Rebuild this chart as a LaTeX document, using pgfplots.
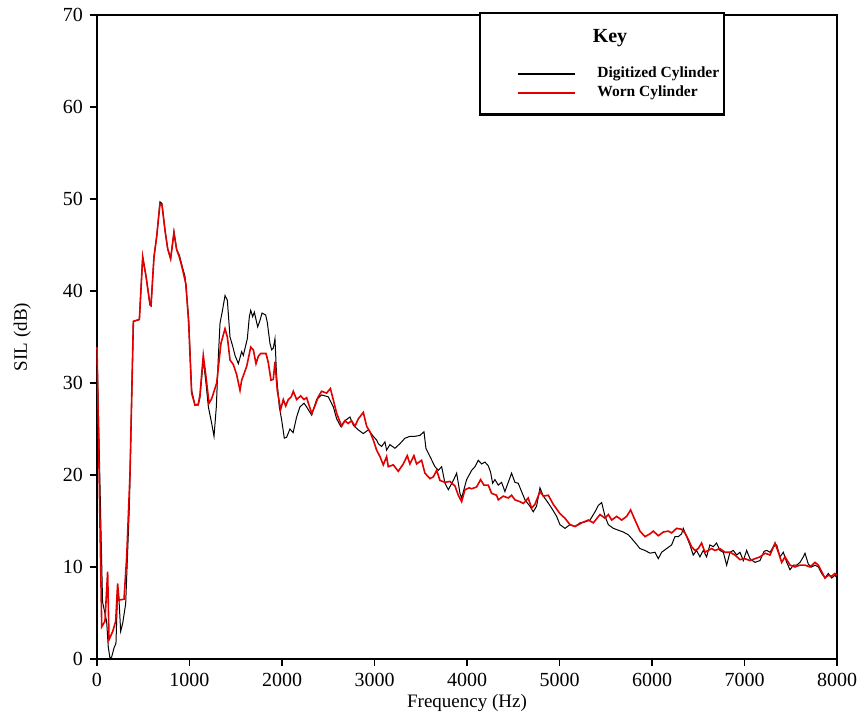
\documentclass[border=0pt]{standalone}
\usepackage{fontspec}
\setmainfont{Liberation Serif}
\usepackage{pgfplots}
\pgfplotsset{compat=1.18}
\definecolor{wornRed}{HTML}{E00000}

\begin{document}
\begin{tikzpicture}
\begin{axis}[
    scale only axis, width=370pt, height=322pt,
    xmin=0, xmax=8000, ymin=0, ymax=70,
    xtick={0,1000,...,8000}, ytick={0,10,...,70},
    tick pos=left, tick align=outside, major tick length=3.5pt,
    axis line style={line width=1pt},
    tick style={line width=0.8pt, black},
    scaled x ticks=false,
    xticklabel style={/pgf/number format/1000 sep={}},
    /pgf/number format/assume math mode=true,
    ticklabel style={font=\fontsize{10}{12}\selectfont},
    label style={font=\fontsize{9.5}{11}\selectfont},
    xlabel={Frequency (Hz)}, ylabel={SIL (dB)},
    xlabel style={at={(axis description cs:0.5,-0.068)}, anchor=center},
    ylabel style={at={(axis description cs:-0.101,0.5)}, anchor=center},
    clip=false,
]
% Digitized Cylinder
\addplot[black, line width=0.5pt] coordinates {
(0,33.9) (60,6.2) (104,4.1) (122,1.3) (140,0.1) (158,0.2) (184,1.2) (205,1.7)
(223,7.5) (238,6.4) (256,3.0) (278,3.9) (310,6.0) (350,16.6) (393,36.7)
(458,36.9) (494,43.7) (530,41.6) (573,38.5) (584,38.4) (616,43.7) (645,45.9)
(681,49.7) (703,49.5) (735,46.6) (764,44.6) (796,43.5) (832,46.5) (861,44.5)
(890,43.9) (926,42.5) (951,41.6) (991,37.0) (1023,29.2) (1059,27.6) (1095,27.6)
(1113,28.4) (1149,32.5) (1178,30.0) (1204,27.4) (1240,25.6) (1265,24.2) (1290,27.4)
(1312,32.9) (1330,36.5) (1355,37.8) (1384,39.5) (1409,39.0) (1438,35.0) (1467,34.0)
(1492,33.0) (1528,32.1) (1564,33.4) (1582,33.0) (1625,34.8) (1647,37.2) (1662,37.9)
(1683,37.2) (1701,37.7) (1737,36.1) (1762,36.8) (1784,37.6) (1823,37.4) (1841,36.6)
(1870,34.3) (1888,33.6) (1906,33.8) (1924,34.8) (1942,30.7) (1971,27.4) (1996,26.0)
(2025,24.0) (2050,24.1) (2086,25.0) (2120,24.6) (2158,26.3) (2194,27.4) (2238,27.8)
(2266,27.4) (2321,26.5) (2374,28.2) (2428,28.7) (2500,28.5) (2555,27.4) (2591,26.1)
(2634,25.3) (2680,25.9) (2735,26.3) (2771,25.4) (2825,24.9) (2879,24.5) (2933,24.9)
(2987,24.2) (3023,23.8) (3041,23.4) (3077,23.1) (3113,23.6) (3131,22.7) (3167,23.3)
(3221,22.9) (3275,23.4) (3329,24.0) (3383,24.2) (3437,24.2) (3491,24.3) (3535,24.7)
(3556,22.9) (3600,22.0) (3654,20.9) (3690,20.5) (3726,20.9) (3762,19.1) (3798,18.4)
(3852,19.4) (3888,20.2) (3924,18.0) (3942,17.5) (3996,19.5) (4050,20.5) (4086,20.9)
(4122,21.6) (4158,21.2) (4194,21.4) (4230,21.0) (4255,20.3) (4277,19.1) (4302,19.5)
(4338,18.9) (4374,19.2) (4410,18.2) (4446,19.2) (4482,20.2) (4518,19.2) (4554,19.1)
(4590,18.2) (4627,17.3) (4680,16.6) (4716,16.0) (4752,16.6) (4789,18.6) (4825,17.7)
(4861,17.2) (4915,16.4) (4969,15.5) (5005,14.6) (5059,14.2) (5113,14.6) (5168,14.4)
(5222,14.8) (5276,14.9) (5330,15.1) (5384,16.0) (5420,16.7) (5456,17.0) (5492,15.5)
(5528,14.6) (5582,14.2) (5636,14.0) (5690,13.8) (5744,13.5) (5780,13.1) (5830,12.5)
(5870,12.0) (5924,11.8) (5978,11.5) (6032,11.6) (6068,10.9) (6104,11.6) (6158,12.0)
(6212,12.4) (6248,13.3) (6284,13.3) (6320,13.6) (6338,14.2) (6374,13.3) (6410,12.4)
(6446,11.3) (6482,11.8) (6518,11.1) (6554,11.8) (6590,11.1) (6626,12.4) (6662,12.2)
(6698,12.6) (6734,11.8) (6771,11.6) (6807,10.2) (6843,11.6) (6879,11.8) (6915,11.3)
(6951,11.6) (6987,10.7) (7023,11.8) (7059,10.9) (7113,10.5) (7168,10.7) (7211,11.7)
(7240,11.8) (7276,11.6) (7312,12.2) (7348,12.4) (7384,11.1) (7420,11.6) (7456,10.5)
(7492,9.7) (7528,10.2) (7564,10.2) (7600,10.5) (7636,11.1) (7654,11.5) (7690,10.3)
(7726,10.0) (7762,10.2) (7798,10.0) (7834,9.3) (7870,8.8) (7906,9.3) (7942,8.8)
(7978,9.1) (8000,8.8)
};
% Worn Cylinder
\addplot[wornRed, line width=0.8pt] coordinates {
(0,33.9) (51,3.5) (86,4.1) (115,9.5) (130,2.1) (170,3.0) (202,4.1) (223,8.2)
(238,6.4) (292,6.5) (321,11.1) (357,20.2) (393,36.7) (458,36.9) (494,43.7) (530,41.6)
(573,38.5) (584,38.4) (616,43.7) (645,45.9) (681,49.5) (703,49.3) (735,46.6) (764,44.6)
(796,43.5) (832,46.3) (861,44.5) (890,43.7) (926,42.3) (962,40.7) (991,36.5) (1023,28.9)
(1059,27.6) (1095,27.7) (1113,28.7) (1149,33.0) (1178,30.7) (1211,27.8) (1240,28.3)
(1294,30.0) (1340,34.3) (1384,35.9) (1409,35.0) (1438,32.5) (1474,32.0) (1510,30.9)
(1546,29.2) (1564,30.3) (1618,31.8) (1662,33.9) (1690,33.6) (1719,32.1) (1744,32.9)
(1769,33.2) (1827,33.2) (1852,32.2) (1881,30.3) (1906,30.4) (1924,32.3) (1949,29.2)
(1985,27.1) (2014,28.2) (2040,27.5) (2068,28.2) (2100,28.5) (2122,29.1) (2158,28.2)
(2202,28.6) (2238,28.2) (2266,28.4) (2321,26.7) (2356,27.5) (2392,28.5) (2428,29.1)
(2482,28.9) (2523,29.4) (2559,28.0) (2591,26.7) (2645,25.3) (2680,25.9) (2716,25.6)
(2752,25.9) (2789,25.3) (2825,26.1) (2879,26.8) (2915,25.3) (2951,24.7) (2987,23.8)
(3023,22.7) (3059,22.0) (3095,21.1) (3131,22.0) (3149,20.9) (3203,21.1) (3257,20.4)
(3311,21.2) (3354,22.1) (3383,21.2) (3426,22.1) (3455,21.2) (3509,21.6) (3545,20.2)
(3600,19.6) (3636,19.8) (3672,20.5) (3708,19.4) (3762,19.2) (3816,19.3) (3870,18.8)
(3906,17.8) (3942,17.1) (3978,18.4) (4025,18.6) (4050,18.5) (4104,18.7) (4147,19.5)
(4183,18.9) (4230,18.9) (4266,18.0) (4320,17.8) (4338,17.3) (4392,17.7) (4446,17.5)
(4482,17.8) (4518,17.3) (4572,17.1) (4609,16.9) (4662,17.5) (4698,16.4) (4734,16.8)
(4789,18.2) (4825,17.7) (4879,17.8) (4933,16.8) (5005,15.8) (5059,15.3) (5113,14.6)
(5168,14.4) (5240,14.8) (5312,15.1) (5366,14.8) (5438,15.7) (5492,15.3) (5528,15.7)
(5564,15.1) (5618,15.5) (5672,15.1) (5726,15.5) (5769,16.2) (5816,15.1) (5870,13.9)
(5924,13.3) (5978,13.6) (6014,13.9) (6068,13.4) (6122,13.8) (6176,13.9) (6212,13.7)
(6266,14.2) (6320,14.1) (6356,13.7) (6392,13.0) (6428,12.2) (6464,11.8) (6500,12.0)
(6536,12.6) (6572,11.6) (6608,11.8) (6644,12.0) (6680,11.8) (6734,12.0) (6789,11.6)
(6843,11.6) (6897,11.3) (6951,10.8) (7005,10.9) (7059,10.7) (7113,10.9) (7168,11.1)
(7222,11.5) (7276,11.3) (7330,12.6) (7366,11.6) (7402,10.5) (7438,11.1) (7492,10.2)
(7546,10.0) (7600,10.2) (7654,10.2) (7708,10.0) (7762,10.5) (7798,10.2) (7834,9.5)
(7870,8.8) (7906,9.1) (7942,9.0) (7978,9.3) (8000,9.1)
};
% key box
\draw[line width=1.2pt, fill=white] (axis cs:4141,59.2) rectangle (axis cs:6778,70.2);
\node[font=\bfseries\fontsize{10}{12}\selectfont] at (axis cs:5546,67.5) {Key};
\draw[black, line width=1.2pt] (axis cs:4551,63.6) -- (axis cs:5167,63.6);
\draw[wornRed, line width=1.2pt] (axis cs:4551,61.5) -- (axis cs:5167,61.5);
\node[anchor=west, inner sep=0pt, font=\bfseries\fontsize{7.75}{9}\selectfont] at (axis cs:5405,63.6) {Digitized Cylinder};
\node[anchor=west, inner sep=0pt, font=\bfseries\fontsize{7.75}{9}\selectfont] at (axis cs:5405,61.5) {Worn Cylinder};
\end{axis}
\pgfresetboundingbox
\path ([shift={(-48.5pt,-29pt)}]current axis.south west) rectangle ([shift={(11.5pt,7.5pt)}]current axis.north east);
\end{tikzpicture}
\end{document}
